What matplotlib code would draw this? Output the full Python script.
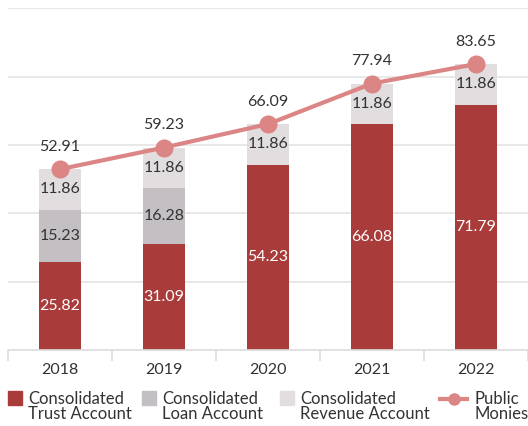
import matplotlib.pyplot as plt
from matplotlib.patches import Rectangle
from matplotlib.lines import Line2D

plt.rcParams['font.family'] = ['Lato', 'DejaVu Sans']

years = ['2018', '2019', '2020', '2021', '2022']
trust = [25.82, 31.09, 54.23, 66.08, 71.79]
loan = [15.23, 16.28, 0, 0, 0]
revenue = [11.86, 11.86, 11.86, 11.86, 11.86]
public = [52.91, 59.23, 66.09, 77.94, 83.65]

c_trust = '#a93b3a'
c_loan = '#c4bfc2'
c_rev = '#e2dedf'
c_line = '#dc8585'
c_text = '#333333'

W, H = 528, 426
fig = plt.figure(figsize=(W / 100, H / 100), dpi=100)
ax = fig.add_axes([0.015, 0.178, 0.985, 0.803])

x = range(len(years))
w = 0.4
ax.bar(x, trust, w, color=c_trust, zorder=2)
ax.bar(x, loan, w, bottom=trust, color=c_loan, zorder=2)
base2 = [t + l for t, l in zip(trust, loan)]
ax.bar(x, revenue, w, bottom=base2, color=c_rev, zorder=2)
ax.plot(x, public, color=c_line, lw=3, marker='o', ms=12, zorder=3)

fs = 11.5
for i in x:
    ax.text(i, trust[i] / 2, f'{trust[i]:.2f}', ha='center', va='center',
            color='white', fontsize=fs)
    if loan[i]:
        ax.text(i, trust[i] + loan[i] / 2, f'{loan[i]:.2f}', ha='center',
                va='center', color=c_text, fontsize=fs)
    ax.text(i, base2[i] + revenue[i] / 2, f'{revenue[i]:.2f}', ha='center',
            va='center', color=c_text, fontsize=fs)
    ax.text(i, public[i] + 4.5, f'{public[i]:.2f}', ha='center',
            va='bottom', color=c_text, fontsize=fs)

ax.set_ylim(0, 100)
ax.set_xlim(-0.5, 4.5)
ax.set_yticks([20, 40, 60, 80, 100])
ax.yaxis.grid(True, color='#e4e4e4', lw=1.2, zorder=0)
ax.tick_params(axis='y', left=False, labelleft=False)
ax.set_xticks(list(x))
ax.set_xticklabels(years, fontsize=11.5, color=c_text)
ax.set_xticks([-0.5, 0.5, 1.5, 2.5, 3.5, 4.5], minor=True)
ax.tick_params(axis='x', which='major', length=0, pad=9)
ax.tick_params(axis='x', which='minor', length=8, color='#dddddd', width=1.2)
for s in ['left', 'right', 'top']:
    ax.spines[s].set_visible(False)
ax.spines['bottom'].set_color('#dddddd')
ax.spines['bottom'].set_linewidth(1.2)

# legend drawn by hand in pixel coordinates (y from top)
def fx(px):
    return px / W

def fy(py):
    return 1 - py / H

labels = ['Consolidated\nTrust Account', 'Consolidated\nLoan Account',
          'Consolidated\nRevenue Account']
for px, col, lab in zip([8, 142, 280], [c_trust, c_loan, c_rev], labels):
    fig.add_artist(Rectangle((fx(px), fy(405)), fx(14), 14 / H,
                             color=col, transform=fig.transFigure))
    fig.text(fx(px + 20), fy(391), lab, fontsize=12, color=c_text,
             va='top', ha='left', linespacing=0.95)
fig.add_artist(Line2D([fx(440), fx(467)], [fy(399), fy(399)], color=c_line,
                      lw=3, transform=fig.transFigure))
fig.add_artist(Line2D([fx(453.5)], [fy(399)], color=c_line, marker='o',
                      ms=8, transform=fig.transFigure))
fig.text(fx(475), fy(391), 'Public\nMonies', fontsize=12, color=c_text,
         va='top', ha='left', linespacing=0.95)

fig.savefig('out.png', dpi=100)
